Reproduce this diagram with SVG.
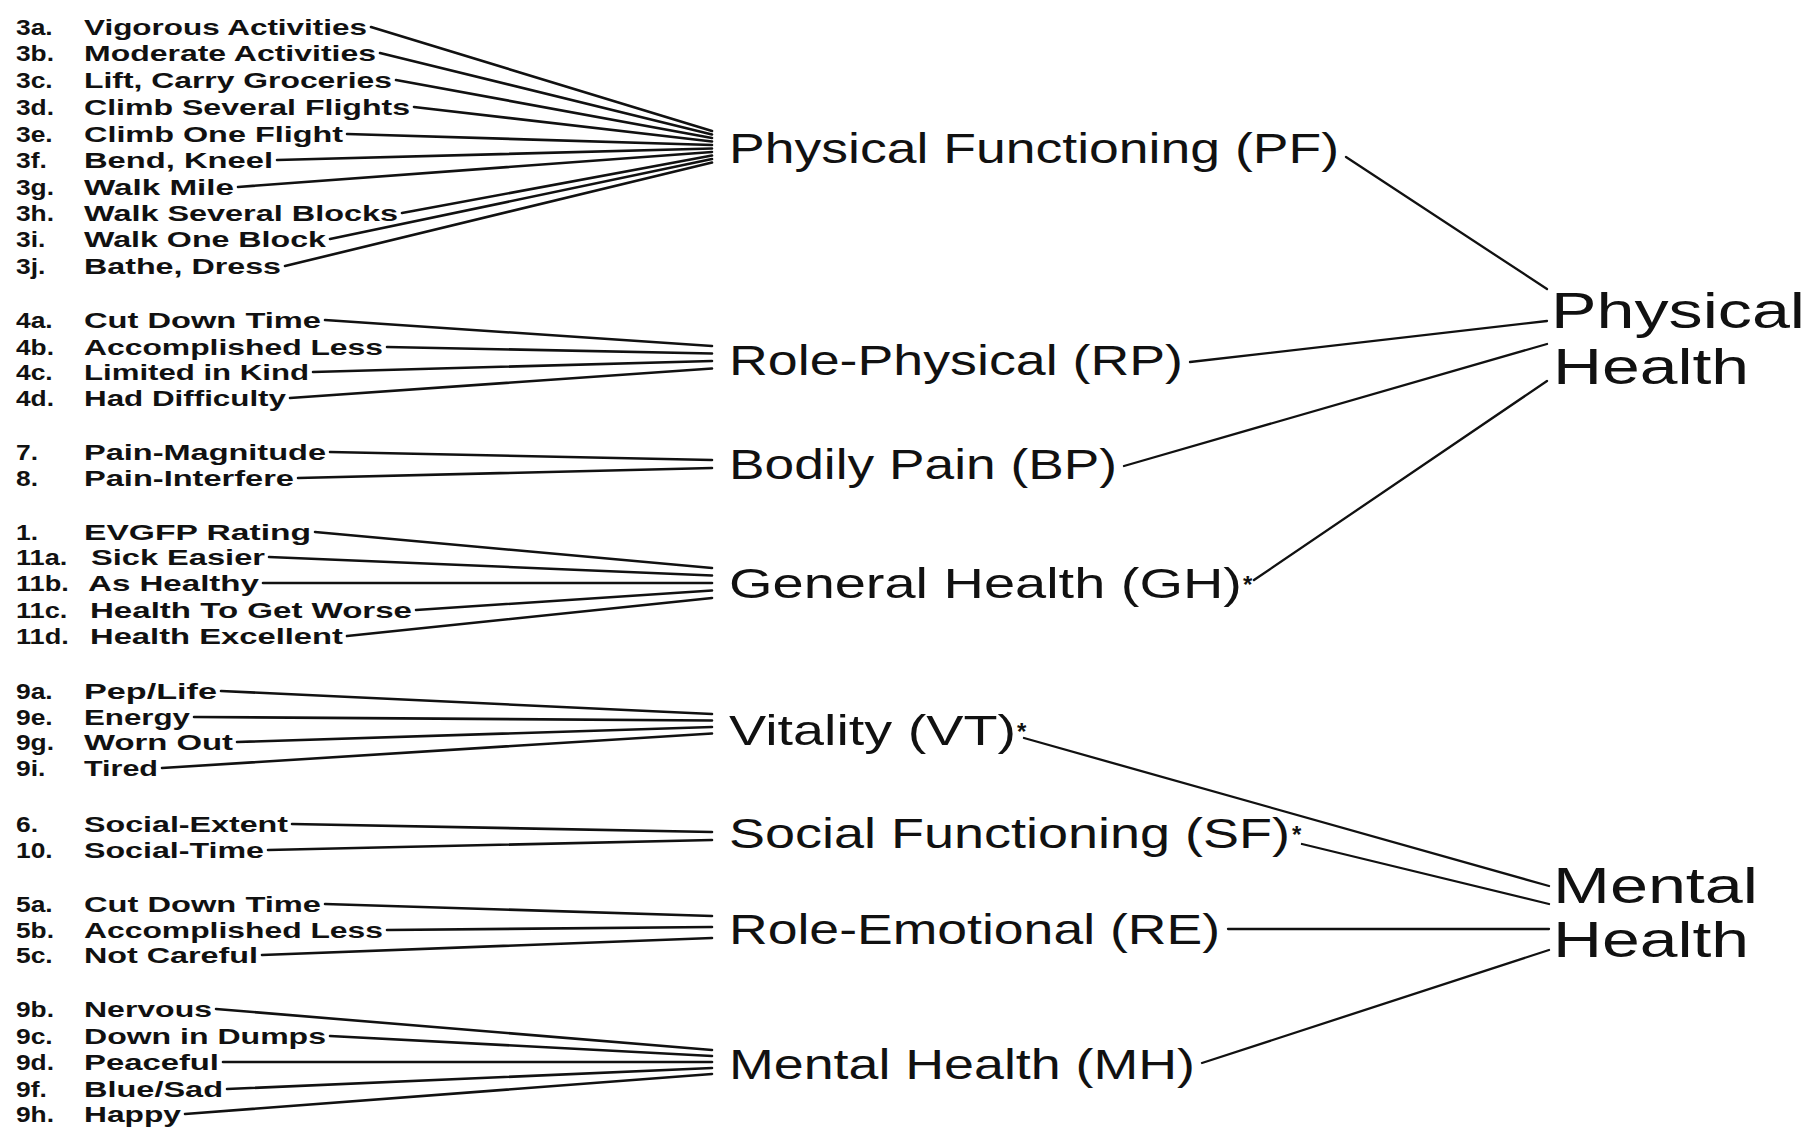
<svg xmlns="http://www.w3.org/2000/svg" width="1810" height="1129" viewBox="0 0 1810 1129">
<style>
.n{font-family:"Liberation Sans",Arial,sans-serif;font-size:22px;font-weight:bold;fill:#111}
.d{font-family:"Liberation Sans",Arial,sans-serif;font-size:42px;fill:#111}
.s{font-family:"Liberation Sans",Arial,sans-serif;font-size:24px;font-weight:bold;fill:#111}
.h{font-family:"Liberation Sans",Arial,sans-serif;font-size:50px;fill:#111}
.c line{stroke:#111;stroke-width:2.6;stroke-linecap:round}
.c .r{stroke-width:2.3}
</style>
<rect width="1810" height="1129" fill="#fff"/>
<g id="connectors" class="c">
<line x1="371" y1="27" x2="712" y2="131"/>
<line x1="380" y1="53" x2="712" y2="134.5"/>
<line x1="396" y1="80" x2="712" y2="138"/>
<line x1="414" y1="107" x2="712" y2="141.5"/>
<line x1="347" y1="134" x2="712" y2="145"/>
<line x1="277" y1="160" x2="712" y2="148.5"/>
<line x1="238" y1="187" x2="712" y2="152"/>
<line x1="402" y1="213" x2="712" y2="155.5"/>
<line x1="330" y1="239" x2="712" y2="159"/>
<line x1="285" y1="266" x2="712" y2="162.5"/>
<line x1="325" y1="320" x2="712" y2="346"/>
<line x1="387" y1="347" x2="712" y2="353.5"/>
<line x1="313" y1="372" x2="712" y2="361"/>
<line x1="290" y1="398" x2="712" y2="368.5"/>
<line x1="330" y1="452" x2="712" y2="460"/>
<line x1="298" y1="478" x2="712" y2="468"/>
<line x1="315" y1="532" x2="712" y2="568"/>
<line x1="269" y1="557" x2="712" y2="575.5"/>
<line x1="263" y1="583" x2="712" y2="583"/>
<line x1="416" y1="610" x2="712" y2="590.5"/>
<line x1="347" y1="636" x2="712" y2="598"/>
<line x1="221" y1="691" x2="712" y2="714"/>
<line x1="194" y1="717" x2="712" y2="720.5"/>
<line x1="237" y1="742" x2="712" y2="727"/>
<line x1="162" y1="768" x2="712" y2="733.5"/>
<line x1="292" y1="824" x2="712" y2="832"/>
<line x1="268" y1="850" x2="712" y2="840"/>
<line x1="325" y1="904" x2="712" y2="916"/>
<line x1="387" y1="930" x2="712" y2="927"/>
<line x1="262" y1="955" x2="712" y2="938"/>
<line x1="216" y1="1009" x2="712" y2="1050"/>
<line x1="330" y1="1036" x2="712" y2="1056"/>
<line x1="223" y1="1062" x2="712" y2="1062"/>
<line x1="227" y1="1089" x2="712" y2="1068"/>
<line x1="185" y1="1114" x2="712" y2="1074"/>
<line class="r" x1="1346" y1="157" x2="1547" y2="289"/>
<line class="r" x1="1190" y1="362" x2="1547" y2="321"/>
<line class="r" x1="1124" y1="466" x2="1547" y2="344"/>
<line class="r" x1="1254" y1="580" x2="1547" y2="381"/>
<line class="r" x1="1024" y1="738" x2="1549" y2="886"/>
<line class="r" x1="1302" y1="844" x2="1549" y2="904"/>
<line class="r" x1="1228" y1="929" x2="1549" y2="929"/>
<line class="r" x1="1202" y1="1063" x2="1549" y2="950"/>
</g>
<g id="item-3a"><text class="n" x="16" y="35" textLength="36.7" lengthAdjust="spacingAndGlyphs">3a.</text><text class="n" x="84" y="35" textLength="283" lengthAdjust="spacingAndGlyphs">Vigorous Activities</text></g>
<g id="item-3b"><text class="n" x="16" y="61" textLength="38" lengthAdjust="spacingAndGlyphs">3b.</text><text class="n" x="84" y="61" textLength="292" lengthAdjust="spacingAndGlyphs">Moderate Activities</text></g>
<g id="item-3c"><text class="n" x="16" y="88" textLength="36.7" lengthAdjust="spacingAndGlyphs">3c.</text><text class="n" x="84" y="88" textLength="308" lengthAdjust="spacingAndGlyphs">Lift, Carry Groceries</text></g>
<g id="item-3d"><text class="n" x="16" y="115" textLength="38" lengthAdjust="spacingAndGlyphs">3d.</text><text class="n" x="84" y="115" textLength="326" lengthAdjust="spacingAndGlyphs">Climb Several Flights</text></g>
<g id="item-3e"><text class="n" x="16" y="142" textLength="36.7" lengthAdjust="spacingAndGlyphs">3e.</text><text class="n" x="84" y="142" textLength="259" lengthAdjust="spacingAndGlyphs">Climb One Flight</text></g>
<g id="item-3f"><text class="n" x="16" y="168" textLength="30.8" lengthAdjust="spacingAndGlyphs">3f.</text><text class="n" x="84" y="168" textLength="189" lengthAdjust="spacingAndGlyphs">Bend, Kneel</text></g>
<g id="item-3g"><text class="n" x="16" y="195" textLength="38" lengthAdjust="spacingAndGlyphs">3g.</text><text class="n" x="84" y="195" textLength="150" lengthAdjust="spacingAndGlyphs">Walk Mile</text></g>
<g id="item-3h"><text class="n" x="16" y="221" textLength="38" lengthAdjust="spacingAndGlyphs">3h.</text><text class="n" x="84" y="221" textLength="314" lengthAdjust="spacingAndGlyphs">Walk Several Blocks</text></g>
<g id="item-3i"><text class="n" x="16" y="247" textLength="29.4" lengthAdjust="spacingAndGlyphs">3i.</text><text class="n" x="84" y="247" textLength="242" lengthAdjust="spacingAndGlyphs">Walk One Block</text></g>
<g id="item-3j"><text class="n" x="16" y="274" textLength="29.4" lengthAdjust="spacingAndGlyphs">3j.</text><text class="n" x="84" y="274" textLength="197" lengthAdjust="spacingAndGlyphs">Bathe, Dress</text></g>
<g id="item-4a"><text class="n" x="16" y="328" textLength="36.7" lengthAdjust="spacingAndGlyphs">4a.</text><text class="n" x="84" y="328" textLength="237" lengthAdjust="spacingAndGlyphs">Cut Down Time</text></g>
<g id="item-4b"><text class="n" x="16" y="355" textLength="38" lengthAdjust="spacingAndGlyphs">4b.</text><text class="n" x="84" y="355" textLength="299" lengthAdjust="spacingAndGlyphs">Accomplished Less</text></g>
<g id="item-4c"><text class="n" x="16" y="380" textLength="36.7" lengthAdjust="spacingAndGlyphs">4c.</text><text class="n" x="84" y="380" textLength="225" lengthAdjust="spacingAndGlyphs">Limited in Kind</text></g>
<g id="item-4d"><text class="n" x="16" y="406" textLength="38" lengthAdjust="spacingAndGlyphs">4d.</text><text class="n" x="84" y="406" textLength="202" lengthAdjust="spacingAndGlyphs">Had Difficulty</text></g>
<g id="item-7"><text class="n" x="16" y="460" textLength="22" lengthAdjust="spacingAndGlyphs">7.</text><text class="n" x="84" y="460" textLength="242" lengthAdjust="spacingAndGlyphs">Pain-Magnitude</text></g>
<g id="item-8"><text class="n" x="16" y="486" textLength="22" lengthAdjust="spacingAndGlyphs">8.</text><text class="n" x="84" y="486" textLength="210" lengthAdjust="spacingAndGlyphs">Pain-Interfere</text></g>
<g id="item-1"><text class="n" x="16" y="540" textLength="22" lengthAdjust="spacingAndGlyphs">1.</text><text class="n" x="84" y="540" textLength="227" lengthAdjust="spacingAndGlyphs">EVGFP Rating</text></g>
<g id="item-11a"><text class="n" x="16" y="565" textLength="51.4" lengthAdjust="spacingAndGlyphs">11a.</text><text class="n" x="91" y="565" textLength="174" lengthAdjust="spacingAndGlyphs">Sick Easier</text></g>
<g id="item-11b"><text class="n" x="16" y="591" textLength="52.8" lengthAdjust="spacingAndGlyphs">11b.</text><text class="n" x="88" y="591" textLength="171" lengthAdjust="spacingAndGlyphs">As Healthy</text></g>
<g id="item-11c"><text class="n" x="16" y="618" textLength="51.4" lengthAdjust="spacingAndGlyphs">11c.</text><text class="n" x="90" y="618" textLength="322" lengthAdjust="spacingAndGlyphs">Health To Get Worse</text></g>
<g id="item-11d"><text class="n" x="16" y="644" textLength="52.8" lengthAdjust="spacingAndGlyphs">11d.</text><text class="n" x="90" y="644" textLength="253" lengthAdjust="spacingAndGlyphs">Health Excellent</text></g>
<g id="item-9a"><text class="n" x="16" y="699" textLength="36.7" lengthAdjust="spacingAndGlyphs">9a.</text><text class="n" x="84" y="699" textLength="133" lengthAdjust="spacingAndGlyphs">Pep/Life</text></g>
<g id="item-9e"><text class="n" x="16" y="725" textLength="36.7" lengthAdjust="spacingAndGlyphs">9e.</text><text class="n" x="84" y="725" textLength="106" lengthAdjust="spacingAndGlyphs">Energy</text></g>
<g id="item-9g"><text class="n" x="16" y="750" textLength="38" lengthAdjust="spacingAndGlyphs">9g.</text><text class="n" x="84" y="750" textLength="149" lengthAdjust="spacingAndGlyphs">Worn Out</text></g>
<g id="item-9i"><text class="n" x="16" y="776" textLength="29.4" lengthAdjust="spacingAndGlyphs">9i.</text><text class="n" x="84" y="776" textLength="74" lengthAdjust="spacingAndGlyphs">Tired</text></g>
<g id="item-6"><text class="n" x="16" y="832" textLength="22" lengthAdjust="spacingAndGlyphs">6.</text><text class="n" x="84" y="832" textLength="204" lengthAdjust="spacingAndGlyphs">Social-Extent</text></g>
<g id="item-10"><text class="n" x="16" y="858" textLength="36.7" lengthAdjust="spacingAndGlyphs">10.</text><text class="n" x="84" y="858" textLength="180" lengthAdjust="spacingAndGlyphs">Social-Time</text></g>
<g id="item-5a"><text class="n" x="16" y="912" textLength="36.7" lengthAdjust="spacingAndGlyphs">5a.</text><text class="n" x="84" y="912" textLength="237" lengthAdjust="spacingAndGlyphs">Cut Down Time</text></g>
<g id="item-5b"><text class="n" x="16" y="938" textLength="38" lengthAdjust="spacingAndGlyphs">5b.</text><text class="n" x="84" y="938" textLength="299" lengthAdjust="spacingAndGlyphs">Accomplished Less</text></g>
<g id="item-5c"><text class="n" x="16" y="963" textLength="36.7" lengthAdjust="spacingAndGlyphs">5c.</text><text class="n" x="84" y="963" textLength="174" lengthAdjust="spacingAndGlyphs">Not Careful</text></g>
<g id="item-9b"><text class="n" x="16" y="1017" textLength="38" lengthAdjust="spacingAndGlyphs">9b.</text><text class="n" x="84" y="1017" textLength="128" lengthAdjust="spacingAndGlyphs">Nervous</text></g>
<g id="item-9c"><text class="n" x="16" y="1044" textLength="36.7" lengthAdjust="spacingAndGlyphs">9c.</text><text class="n" x="84" y="1044" textLength="242" lengthAdjust="spacingAndGlyphs">Down in Dumps</text></g>
<g id="item-9d"><text class="n" x="16" y="1070" textLength="38" lengthAdjust="spacingAndGlyphs">9d.</text><text class="n" x="84" y="1070" textLength="135" lengthAdjust="spacingAndGlyphs">Peaceful</text></g>
<g id="item-9f"><text class="n" x="16" y="1097" textLength="30.8" lengthAdjust="spacingAndGlyphs">9f.</text><text class="n" x="84" y="1097" textLength="139" lengthAdjust="spacingAndGlyphs">Blue/Sad</text></g>
<g id="item-9h"><text class="n" x="16" y="1122" textLength="38" lengthAdjust="spacingAndGlyphs">9h.</text><text class="n" x="84" y="1122" textLength="97" lengthAdjust="spacingAndGlyphs">Happy</text></g>
<g id="domain-PF"><text class="d" x="729" y="163" textLength="610" lengthAdjust="spacingAndGlyphs">Physical Functioning (PF)</text></g>
<g id="domain-RP"><text class="d" x="729" y="375" textLength="454" lengthAdjust="spacingAndGlyphs">Role-Physical (RP)</text></g>
<g id="domain-BP"><text class="d" x="729" y="479" textLength="388" lengthAdjust="spacingAndGlyphs">Bodily Pain (BP)</text></g>
<g id="domain-GH"><text class="d" x="729" y="598" textLength="513" lengthAdjust="spacingAndGlyphs">General Health (GH)</text><text class="s" x="1243" y="593">*</text></g>
<g id="domain-VT"><text class="d" x="729" y="745" textLength="287" lengthAdjust="spacingAndGlyphs">Vitality (VT)</text><text class="s" x="1017" y="740">*</text></g>
<g id="domain-SF"><text class="d" x="729" y="848" textLength="561" lengthAdjust="spacingAndGlyphs">Social Functioning (SF)</text><text class="s" x="1292" y="843">*</text></g>
<g id="domain-RE"><text class="d" x="729" y="944" textLength="491" lengthAdjust="spacingAndGlyphs">Role-Emotional (RE)</text></g>
<g id="domain-MH"><text class="d" x="729" y="1079" textLength="466" lengthAdjust="spacingAndGlyphs">Mental Health (MH)</text></g>
<g id="physical-health"><text class="h" x="1551" y="328" textLength="254" lengthAdjust="spacingAndGlyphs">Physical</text><text class="h" x="1553" y="384" textLength="196" lengthAdjust="spacingAndGlyphs">Health</text></g>
<g id="mental-health"><text class="h" x="1553" y="903" textLength="205" lengthAdjust="spacingAndGlyphs">Mental</text><text class="h" x="1553" y="957" textLength="196" lengthAdjust="spacingAndGlyphs">Health</text></g>
</svg>
